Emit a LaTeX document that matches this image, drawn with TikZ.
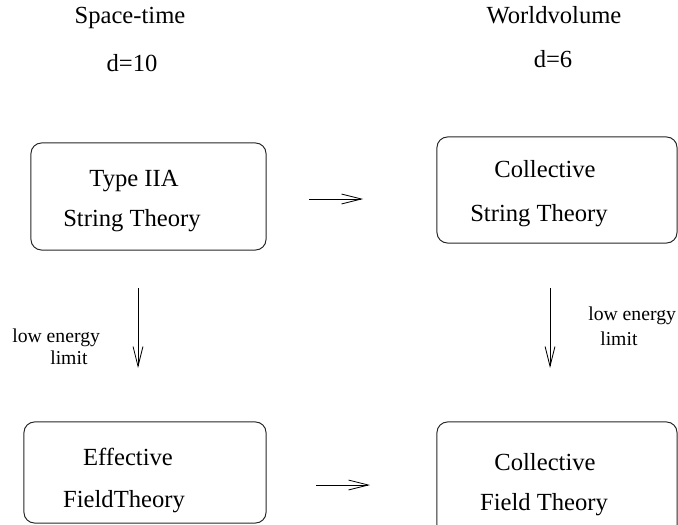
\documentclass[tikz,border=0pt]{standalone}
\usepackage{fontspec}
\setmainfont{Liberation Serif}
\usetikzlibrary{arrows.meta}
\begin{document}
\begin{tikzpicture}[x=0.025cm, y=-0.025cm,
	frame/.style={draw=black!85, line width=0.7pt, rounded corners=7.5pt, inner sep=0pt, outer sep=0pt},
	txt/.style={anchor=base, inner sep=0pt, font=\fontsize{17.5}{21}\selectfont},
	lbl/.style={anchor=base west, inner sep=0pt, font=\fontsize{14}{17}\selectfont},
	vec/.style={line width=0.6pt, -{Straight Barb[length=14pt, width=7pt]}}]
	\useasboundingbox (0,0) rectangle (678,525);
	
	% headings
	\node[txt] (space) at (130,24) {Space-time};
	\node[txt] (dten) at (132,72) {d=10};
	\node[txt] (world) at (554,24) {Worldvolume};
	\node[txt] (dsix) at (553,68) {d=6};
	
	% boxes
	\node[frame, minimum width=5.875cm, minimum height=2.675cm] (tl) at (148.5,196.5) {};
	\node[frame, minimum width=6cm, minimum height=2.65cm] (tr) at (557,190) {};
	\node[frame, minimum width=6.05cm, minimum height=2.525cm] (bl) at (145,472.5) {};
	\node[frame, minimum width=6cm, minimum height=3cm] (br) at (557,482) {};
	
	\node[txt] (tl1) at (134,187) {Type IIA};
	\node[txt] (tl2) at (132,227) {String Theory};
	\node[txt] (tr1) at (545,178) {Collective};
	\node[txt] (tr2) at (539,222) {String Theory};
	\node[txt] (bl1) at (128,465) {Effective};
	\node[txt] (bl2) at (124,507) {FieldTheory};
	\node[txt] (br1) at (545,470) {Collective};
	\node[txt] (br2) at (544,510) {Field Theory};
	
	% limit labels
	\node[lbl] (ll1) at (12,342) {low energy};
	\node[lbl] (ll2) at (50,364) {limit};
	\node[lbl] (rl1) at (588,320) {low energy};
	\node[lbl] (rl2) at (600,345) {limit};
	
	% arrows
	\coordinate (ta) at (309,199);
	\coordinate (tb) at (363,199);
	\coordinate (ba) at (316,485);
	\coordinate (bb) at (370,485);
	\coordinate (la) at (138,288);
	\coordinate (lb) at (138,368);
	\coordinate (ra) at (550,288);
	\coordinate (rb) at (550,368);
	\draw[vec] (ta) -- (tb);
	\draw[vec] (ba) -- (bb);
	\draw[vec] (la) -- (lb);
	\draw[vec] (ra) -- (rb);
\end{tikzpicture}
\end{document}
